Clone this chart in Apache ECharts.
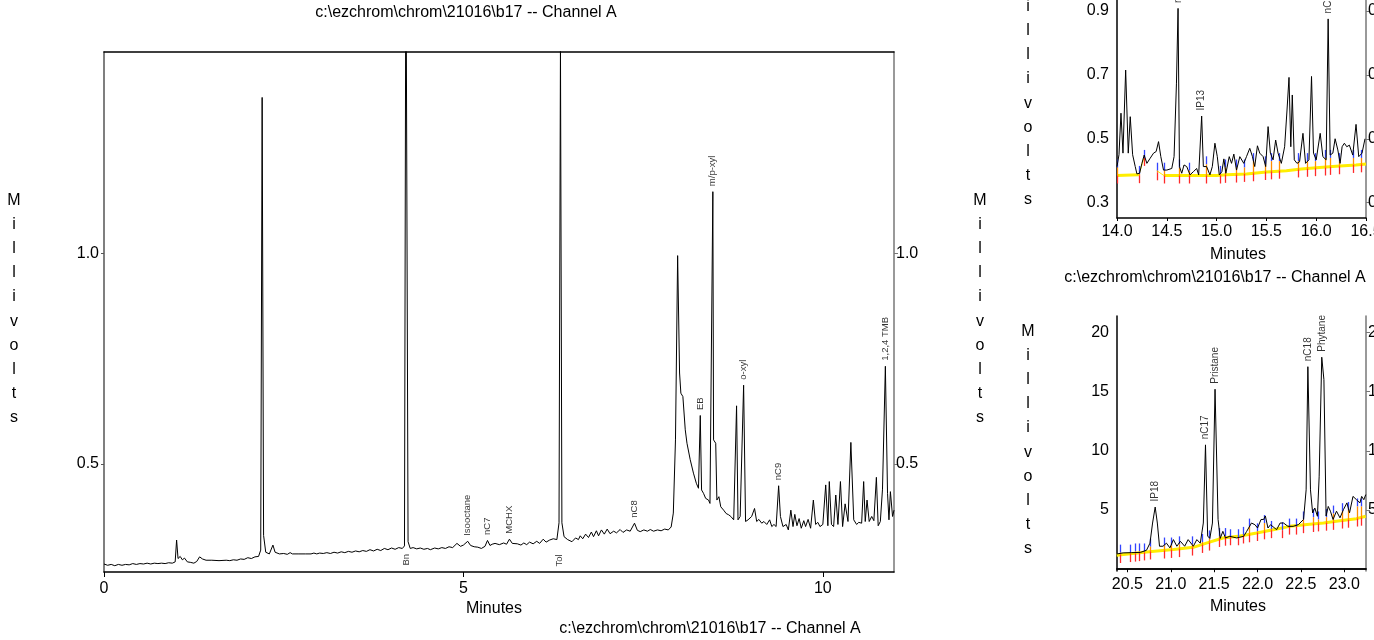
<!DOCTYPE html>
<html>
<head>
<meta charset="utf-8">
<script src="https://cdn.jsdelivr.net/npm/echarts@6/dist/echarts.min.js"></script>
<style>
  html, body { margin: 0; padding: 0; background: #fff; }
  #chart { width: 1374px; height: 640px; }
</style>
</head>
<body>
<div id="chart"></div>
<script>
// ---------- Channel A, 0 – 11 min ----------
const mainTrace = [
  [0.00,0.262],[0.05,0.259],[0.10,0.261],[0.15,0.258],[0.20,0.261],[0.25,0.259],[0.30,0.261],[0.35,0.260],
  [0.40,0.263],[0.45,0.261],[0.50,0.263],[0.55,0.262],[0.60,0.264],[0.65,0.262],[0.70,0.264],[0.75,0.263],
  [0.80,0.264],[0.85,0.263],[0.90,0.265],[0.95,0.264],[0.99,0.267],[1.01,0.319],[1.03,0.275],[1.06,0.280],
  [1.09,0.272],[1.12,0.276],[1.16,0.267],[1.20,0.266],[1.25,0.264],[1.29,0.268],[1.33,0.279],[1.37,0.274],
  [1.42,0.271],[1.50,0.271],[1.60,0.270],[1.70,0.271],[1.75,0.270],[1.80,0.272],[1.85,0.271],[1.90,0.274],
  [1.95,0.273],[2.00,0.277],[2.05,0.275],[2.10,0.279],[2.15,0.280],[2.18,0.295],[2.20,1.371],[2.22,0.330],
  [2.25,0.290],[2.30,0.286],[2.35,0.307],[2.38,0.290],[2.44,0.286],[2.50,0.287],[2.55,0.285],[2.59,0.289],
  [2.62,0.286],[2.70,0.286],[2.80,0.286],[2.88,0.286],[2.92,0.288],[2.96,0.286],[3.00,0.288],[3.05,0.287],
  [3.10,0.289],[3.15,0.287],[3.20,0.290],[3.25,0.288],[3.30,0.291],[3.35,0.289],[3.40,0.292],[3.45,0.290],
  [3.50,0.293],[3.55,0.291],[3.60,0.294],[3.65,0.292],[3.70,0.296],[3.75,0.293],[3.80,0.297],[3.85,0.294],
  [3.90,0.299],[3.95,0.296],[4.00,0.300],[4.05,0.297],[4.10,0.301],[4.15,0.299],[4.18,0.305],[4.20,1.800],
  [4.23,0.315],[4.26,0.299],[4.30,0.301],[4.35,0.298],[4.40,0.300],[4.45,0.297],[4.50,0.299],[4.54,0.296],
  [4.60,0.300],[4.65,0.298],[4.70,0.301],[4.75,0.299],[4.80,0.303],[4.85,0.301],[4.91,0.311],[4.96,0.304],
  [5.00,0.307],[5.06,0.316],[5.10,0.306],[5.15,0.303],[5.20,0.302],[5.25,0.299],[5.30,0.304],[5.335,0.318],
  [5.37,0.306],[5.40,0.309],[5.44,0.311],[5.50,0.308],[5.56,0.312],[5.60,0.309],[5.64,0.321],[5.68,0.311],
  [5.70,0.307],[5.75,0.310],[5.80,0.307],[5.84,0.312],[5.88,0.308],[5.92,0.314],[5.97,0.310],[6.02,0.316],
  [6.06,0.311],[6.11,0.321],[6.15,0.314],[6.20,0.319],[6.25,0.322],[6.30,0.320],[6.33,0.360],[6.35,1.500],
  [6.37,0.360],[6.40,0.327],[6.45,0.320],[6.51,0.315],[6.56,0.324],[6.60,0.320],[6.625,0.329],[6.66,0.322],
  [6.70,0.333],[6.74,0.325],[6.78,0.338],[6.81,0.327],[6.85,0.341],[6.88,0.329],[6.92,0.343],[6.96,0.333],
  [7.00,0.345],[7.04,0.334],[7.09,0.340],[7.13,0.336],[7.18,0.344],[7.22,0.337],[7.27,0.343],[7.32,0.340],
  [7.38,0.359],[7.42,0.342],[7.46,0.339],[7.51,0.343],[7.56,0.340],[7.60,0.344],[7.645,0.340],[7.70,0.343],
  [7.75,0.341],[7.80,0.345],[7.85,0.343],[7.89,0.350],[7.92,0.383],[7.95,0.557],[7.98,0.995],[8.007,0.716],
  [8.025,0.668],[8.053,0.660],[8.086,0.581],[8.11,0.549],[8.155,0.510],[8.20,0.478],[8.24,0.454],[8.27,0.442],
  [8.295,0.615],[8.313,0.438],[8.34,0.430],[8.37,0.418],[8.41,0.414],[8.43,0.406],[8.47,1.147],[8.48,0.557],
  [8.51,0.549],[8.526,0.414],[8.554,0.422],[8.58,0.398],[8.62,0.390],[8.655,0.382],[8.69,0.379],[8.72,0.375],
  [8.76,0.367],[8.80,0.638],[8.82,0.367],[8.85,0.375],[8.898,0.687],[8.925,0.363],[8.96,0.367],[9.01,0.375],
  [9.05,0.394],[9.08,0.363],[9.11,0.368],[9.15,0.359],[9.18,0.363],[9.22,0.356],[9.26,0.367],[9.29,0.351],
  [9.32,0.356],[9.35,0.351],[9.385,0.448],[9.41,0.375],[9.445,0.351],[9.49,0.356],[9.52,0.343],[9.555,0.390],
  [9.585,0.351],[9.61,0.380],[9.64,0.353],[9.67,0.370],[9.70,0.347],[9.735,0.365],[9.76,0.351],[9.795,0.368],
  [9.83,0.347],[9.868,0.414],[9.90,0.356],[9.93,0.361],[9.96,0.351],[10.00,0.356],[10.04,0.450],[10.07,0.353],
  [10.09,0.458],[10.12,0.356],[10.15,0.351],[10.18,0.426],[10.21,0.356],[10.245,0.458],[10.275,0.351],
  [10.31,0.405],[10.35,0.363],[10.39,0.551],[10.43,0.367],[10.47,0.356],[10.50,0.361],[10.54,0.359],
  [10.568,0.458],[10.59,0.363],[10.615,0.414],[10.645,0.363],[10.68,0.375],[10.71,0.365],[10.745,0.468],
  [10.77,0.353],[10.80,0.363],[10.83,0.440],[10.87,0.732],[10.90,0.430],[10.92,0.367],[10.94,0.434],
  [10.97,0.375],[10.99,0.390]
];
const mainPeakNames  = ['Isooctane', 'nC7', 'MCHX', 'nC8', 'EB', 'm/p-xyl', 'o-xyl', 'nC9', '1,2,4 TMB'];
const mainPeakTimes  = [5.06, 5.335, 5.64, 7.38, 8.295, 8.47, 8.898, 9.385, 10.87];
const mainPeakValues = [0.316, 0.318, 0.321, 0.359, 0.615, 1.147, 0.687, 0.448, 0.732];
// names of off-scale peaks, written low near the axis
const lowLabelNames  = ['Bn', 'Tol'];
const lowLabelTimes  = [4.21, 6.33];
const lowLabelValues = [0.257, 0.255];
const mainXTicks = [0, 5, 10];
const mainYTicks = [0.5, 1.0];

// ---------- 14.0 – 16.5 min ----------
const midTrace = [
  [14.000,0.413],[14.02,0.450],[14.04,0.580],[14.06,0.455],[14.087,0.715],[14.113,0.455],[14.133,0.569],
  [14.157,0.450],[14.183,0.413],[14.20,0.390],[14.227,0.392],[14.25,0.423],[14.273,0.449],[14.30,0.423],
  [14.333,0.439],[14.367,0.455],[14.393,0.460],[14.417,0.491],[14.44,0.444],[14.467,0.402],[14.50,0.402],
  [14.55,0.407],[14.573,0.444],[14.597,0.674],[14.613,0.908],[14.627,0.413],[14.65,0.392],[14.673,0.418],
  [14.70,0.413],[14.733,0.387],[14.767,0.397],[14.80,0.407],[14.82,0.387],[14.85,0.571],[14.867,0.413],
  [14.90,0.413],[14.933,0.387],[14.957,0.413],[14.983,0.486],[15.007,0.444],[15.027,0.387],[15.053,0.397],
  [15.073,0.437],[15.093,0.392],[15.127,0.444],[15.15,0.423],[15.173,0.452],[15.20,0.402],[15.233,0.444],
  [15.273,0.423],[15.30,0.444],[15.333,0.470],[15.36,0.444],[15.383,0.413],[15.41,0.478],[15.433,0.455],
  [15.467,0.444],[15.493,0.413],[15.517,0.538],[15.54,0.455],[15.567,0.434],[15.593,0.496],[15.617,0.455],
  [15.65,0.423],[15.683,0.475],[15.707,0.590],[15.727,0.692],[15.745,0.475],[15.76,0.637],[15.78,0.434],
  [15.807,0.423],[15.833,0.428],[15.867,0.517],[15.893,0.423],[15.927,0.434],[15.953,0.695],[15.973,0.455],
  [16.00,0.434],[16.04,0.517],[16.067,0.444],[16.10,0.434],[16.12,0.875],[16.14,0.449],[16.167,0.455],
  [16.19,0.500],[16.217,0.465],[16.24,0.423],[16.26,0.475],[16.283,0.486],[16.307,0.475],[16.333,0.480],
  [16.367,0.449],[16.40,0.545],[16.427,0.444],[16.46,0.455],[16.49,0.500]
];
const midBaseA = [[14.0,0.385],[14.22,0.387]];
const midBaseB = [[14.47,0.385],[15.0,0.385],[15.1,0.387],[15.3,0.390],[15.5,0.396],[15.7,0.400],
                  [15.85,0.405],[16.0,0.409],[16.2,0.414],[16.4,0.418],[16.5,0.421]];
const midBaseThinA = [[14.22,0.387],[14.27,0.440]];
const midBaseThinB = [[14.40,0.400],[14.47,0.385]];
// peak start/stop marks: [time, trace level, baseline level]
const midMarks = [
  [14.00,0.410,0.385],[14.22,0.390,0.386],[14.27,0.440,0.440],[14.40,0.400,0.395],[14.47,0.400,0.385],
  [14.62,0.410,0.385],[14.72,0.400,0.385],[14.89,0.420,0.385],[15.03,0.390,0.385],[15.08,0.410,0.387],
  [15.19,0.410,0.388],[15.28,0.410,0.390],[15.37,0.430,0.392],[15.49,0.420,0.396],[15.55,0.430,0.398],
  [15.63,0.430,0.400],[15.82,0.430,0.404],[15.91,0.430,0.406],[15.99,0.430,0.408],[16.09,0.440,0.410],
  [16.14,0.440,0.412],[16.23,0.430,0.414],[16.37,0.440,0.418],[16.45,0.440,0.420]
];
const midPeakNames  = ['nC13', 'IP13', 'nC14'];
const midPeakTimes  = [14.613, 14.85, 16.12];
const midPeakValues = [0.908, 0.571, 0.875];
const midXTicks = [14.0, 14.5, 15.0, 15.5, 16.0, 16.5];
const midYTicks = [0.3, 0.5, 0.7, 0.9];

// ---------- 20.4 – 23.2 min ----------
const lowTrace = [
  [20.38,1.29],[20.45,1.38],[20.55,1.40],[20.65,1.42],[20.72,1.60],[20.76,2.20],[20.79,3.90],[20.82,5.25],
  [20.845,3.90],[20.87,1.94],[20.91,1.94],[20.95,2.20],[20.99,1.80],[21.03,2.50],[21.07,1.94],[21.11,2.36],
  [21.16,1.94],[21.20,2.50],[21.26,1.94],[21.30,2.50],[21.34,2.20],[21.375,3.90],[21.40,10.5],[21.425,2.80],
  [21.45,2.60],[21.48,3.90],[21.51,15.2],[21.545,4.20],[21.57,2.60],[21.60,3.20],[21.63,2.64],[21.68,2.78],
  [21.76,2.64],[21.84,2.78],[21.875,3.20],[21.93,3.90],[21.97,3.76],[22.00,3.48],[22.04,4.20],[22.07,4.20],
  [22.09,4.50],[22.12,3.48],[22.15,3.76],[22.22,3.34],[22.26,3.90],[22.30,3.90],[22.35,3.62],[22.41,3.62],
  [22.47,3.76],[22.53,4.20],[22.56,6.70],[22.58,17.1],[22.61,6.70],[22.635,4.75],[22.66,5.17],[22.69,4.47],
  [22.71,7.80],[22.74,17.9],[22.765,16.0],[22.79,4.50],[22.815,5.30],[22.84,4.90],[22.87,4.20],[22.91,4.90],
  [22.95,4.34],[22.99,5.03],[23.03,5.60],[23.06,4.76],[23.10,6.15],[23.14,5.87],[23.18,5.60],[23.20,6.15],
  [23.225,5.87],[23.247,6.30]
];
const lowBase = [
  [20.377,1.18],[20.72,1.46],[21.03,1.66],[21.26,1.85],[21.41,2.20],[21.60,2.64],[21.80,2.80],[21.99,3.06],
  [22.18,3.34],[22.37,3.62],[22.57,3.77],[22.76,3.90],[22.95,4.10],[23.14,4.27],[23.247,4.47]
];
const lowMarks = [
  [20.416,1.40,1.20],[20.531,1.40,1.28],[20.588,1.50,1.32],[20.638,1.50,1.36],[20.692,1.50,1.42],
  [20.761,1.90,1.50],[20.922,2.00,1.58],[21.000,2.00,1.63],[21.095,2.10,1.70],[21.241,2.10,1.83],
  [21.356,2.30,2.05],[21.437,2.60,2.25],[21.560,2.80,2.55],[21.625,2.80,2.66],[21.683,2.70,2.70],
  [21.779,2.70,2.78],[21.836,2.90,2.85],[21.906,3.60,2.95],[21.998,3.20,3.06],[22.075,3.90,3.20],
  [22.151,3.40,3.30],[22.278,3.30,3.48],[22.366,3.60,3.62],[22.443,3.60,3.67],[22.520,4.20,3.72],
  [22.643,4.40,3.82],[22.700,4.20,3.87],[22.789,4.40,3.93],[22.866,4.70,4.00],[22.969,4.90,4.11],
  [23.046,5.00,4.18],[23.150,5.30,4.28],[23.188,5.30,4.35]
];
const lowPeakNames  = ['IP18', 'nC17', 'Pristane', 'nC18', 'Phytane'];
const lowPeakTimes  = [20.82, 21.40, 21.51, 22.58, 22.74];
const lowPeakValues = [5.25, 10.5, 15.2, 17.1, 17.9];
const lowXTicks = [20.5, 21.0, 21.5, 22.0, 22.5, 23.0];
const lowYTicks = [5, 10, 15, 20];

const fileTitle = 'c:\\ezchrom\\chrom\\21016\\b17 -- Channel A';
const yName = 'Millivolts';

// ---------- helpers ----------
const FONT = "'Liberation Sans', Arial, sans-serif";

function labelPoints(names, times, values) {
  return names.map((n, i) => ({ name: n, value: [times[i], values[i]] }));
}

function peakLabelSeries(xi, yi, names, times, values, dist, size) {
  return {
    type: 'scatter', xAxisIndex: xi, yAxisIndex: yi, z: 5,
    symbolSize: 1, itemStyle: { color: 'rgba(0,0,0,0)' },
    silent: true, clip: false,
    data: labelPoints(names, times, values),
    label: {
      show: true, formatter: '{b}', position: 'top', distance: dist,
      rotate: 90, align: 'left', verticalAlign: 'middle',
      fontFamily: FONT, fontSize: size, color: '#000'
    }
  };
}

function traceSeries(xi, yi, data) {
  return {
    type: 'line', xAxisIndex: xi, yAxisIndex: yi, z: 4, data: data,
    symbol: 'none', silent: true, clip: true,
    lineStyle: { color: '#000', width: 1 }
  };
}

function baseSeries(xi, yi, data, w) {
  return {
    type: 'line', xAxisIndex: xi, yAxisIndex: yi, z: 2, data: data,
    symbol: 'none', silent: true, clip: true,
    lineStyle: { color: '#ffee00', width: w }
  };
}

function markRender(params, api) {
  const t = api.value(0), v = api.value(1), b = api.value(2);
  const pv = api.coord([t, v]);
  const pb = api.coord([t, b]);
  const x = Math.round(pv[0]) + 0.5;
  const kids = [];
  kids.push({ type: 'line', shape: { x1: x, y1: pv[1], x2: x, y2: pv[1] - 8 },
              style: { stroke: '#3344ff', lineWidth: 1.3 } });
  if (pb[1] > pv[1] + 1) {
    kids.push({ type: 'line', shape: { x1: x, y1: pv[1], x2: x, y2: pb[1] },
                style: { stroke: '#ff8c00', lineWidth: 1.3 } });
  }
  const low = Math.max(pv[1], pb[1]);
  kids.push({ type: 'line', shape: { x1: x, y1: low, x2: x, y2: low + 8 },
              style: { stroke: '#ff2a2a', lineWidth: 1.3 } });
  return { type: 'group', children: kids };
}

function markSeries(xi, yi, data) {
  return {
    type: 'custom', xAxisIndex: xi, yAxisIndex: yi, z: 3, silent: true,
    renderItem: markRender, data: data, clip: true
  };
}

function xAxisDef(gi, min, max, ticks, fmt, tickLen, margin) {
  return {
    type: 'value', gridIndex: gi, min: min, max: max, position: 'bottom',
    axisLine: { show: true, lineStyle: { color: '#000', width: 1.5 } },
    axisTick: { show: true, length: tickLen, customValues: ticks, lineStyle: { color: '#000' } },
    axisLabel: { customValues: ticks, formatter: fmt, margin: margin, hideOverlap: false,
                 fontFamily: FONT, fontSize: 16, color: '#000' },
    splitLine: { show: false }
  };
}
function topAxisDef(gi, min, max) {
  return {
    type: 'value', gridIndex: gi, min: min, max: max, position: 'top',
    axisLine: { show: true, lineStyle: { color: '#000', width: 1.5 } },
    axisTick: { show: false }, axisLabel: { show: false }, splitLine: { show: false }
  };
}
function yAxisDef(gi, min, max, ticks, fmt, side, color, tickLen, margin) {
  return {
    type: 'value', gridIndex: gi, min: min, max: max, position: side,
    axisLine: { show: true, onZero: false, lineStyle: { color: color, width: 1.5 } },
    axisTick: { show: tickLen > 0, length: tickLen, customValues: ticks, lineStyle: { color: color } },
    axisLabel: { customValues: ticks, formatter: fmt, margin: margin, hideOverlap: false,
                 fontFamily: FONT, fontSize: 16, color: '#000' },
    splitLine: { show: false }
  };
}
const f1 = v => Number(v).toFixed(1);
const f0 = v => String(Math.round(v));

function stacked(text, x, yTop) {
  return {
    type: 'text', x: x, y: yTop, silent: true,
    style: {
      text: text.split('').join('\n'), fill: '#000',
      font: '16px ' + FONT, lineHeight: 24.2,
      textAlign: 'center', textVerticalAlign: 'top'
    }
  };
}
function caption(text, x, y) {
  return {
    type: 'text', x: x, y: y, silent: true,
    style: { text: text, fill: '#000', font: '16px ' + FONT,
             textAlign: 'center', textVerticalAlign: 'middle' }
  };
}

// ---------- chart ----------
const chart = echarts.init(document.getElementById('chart'), null, { renderer: 'canvas' });

const gridBase = { outerBoundsMode: 'none', containLabel: false };
const option = {
  animation: false,
  backgroundColor: '#fff',
  grid: [
    Object.assign({ left: 104, top: 52, width: 790, height: 520 }, gridBase),
    Object.assign({ left: 1117, top: -37, width: 249, height: 255 }, gridBase),
    Object.assign({ left: 1117, top: 316, width: 249, height: 255 }, gridBase)
  ],
  xAxis: [
    xAxisDef(0, 0, 10.99, mainXTicks, f0, 5, 9),
    topAxisDef(0, 0, 10.99),
    xAxisDef(1, 14.0, 16.5, midXTicks, f1, 3, 6),
    topAxisDef(1, 14.0, 16.5),
    xAxisDef(2, 20.38, 23.25, lowXTicks, f1, 3, 6),
    topAxisDef(2, 20.38, 23.25)
  ],
  yAxis: [
    yAxisDef(0, 0.243, 1.479, mainYTicks, f1, 'left', '#555', 3, 5),
    yAxisDef(0, 0.243, 1.479, mainYTicks, f1, 'right', '#777', 4, 2),
    yAxisDef(1, 0.252, 1.05, midYTicks, f1, 'left', '#000', 0, 8),
    yAxisDef(1, 0.252, 1.05, midYTicks, f1, 'right', '#777', 4, 2),
    yAxisDef(2, -0.15, 21.38, lowYTicks, f0, 'left', '#000', 0, 8),
    yAxisDef(2, -0.15, 21.38, lowYTicks, f0, 'right', '#777', 4, 2)
  ],
  series: [
    traceSeries(0, 0, mainTrace),
    peakLabelSeries(0, 0, mainPeakNames, mainPeakTimes, mainPeakValues, 5, 9.5),
    peakLabelSeries(0, 0, lowLabelNames, lowLabelTimes, lowLabelValues, 0, 9.5),

    baseSeries(2, 2, midBaseA, 3),
    baseSeries(2, 2, midBaseB, 3),
    baseSeries(2, 2, midBaseThinA, 1),
    baseSeries(2, 2, midBaseThinB, 1),
    markSeries(2, 2, midMarks),
    traceSeries(2, 2, midTrace),
    peakLabelSeries(2, 2, midPeakNames, midPeakTimes, midPeakValues, 5, 10),

    baseSeries(4, 4, lowBase, 3),
    markSeries(4, 4, lowMarks),
    traceSeries(4, 4, lowTrace),
    peakLabelSeries(4, 4, lowPeakNames, lowPeakTimes, lowPeakValues, 5, 10)
  ],
  graphic: [
    caption(fileTitle, 466, 13),
    caption('Minutes', 494, 609),
    caption(fileTitle, 710, 629),
    caption('Minutes', 1238, 255),
    caption(fileTitle, 1215, 278),
    caption('Minutes', 1238, 607),
    stacked(yName, 14, 188),
    stacked(yName, 980, 188),
    stacked(yName, 1028, -30),
    stacked(yName, 1028, 319)
  ]
};

chart.setOption(option);
</script>
</body>
</html>
